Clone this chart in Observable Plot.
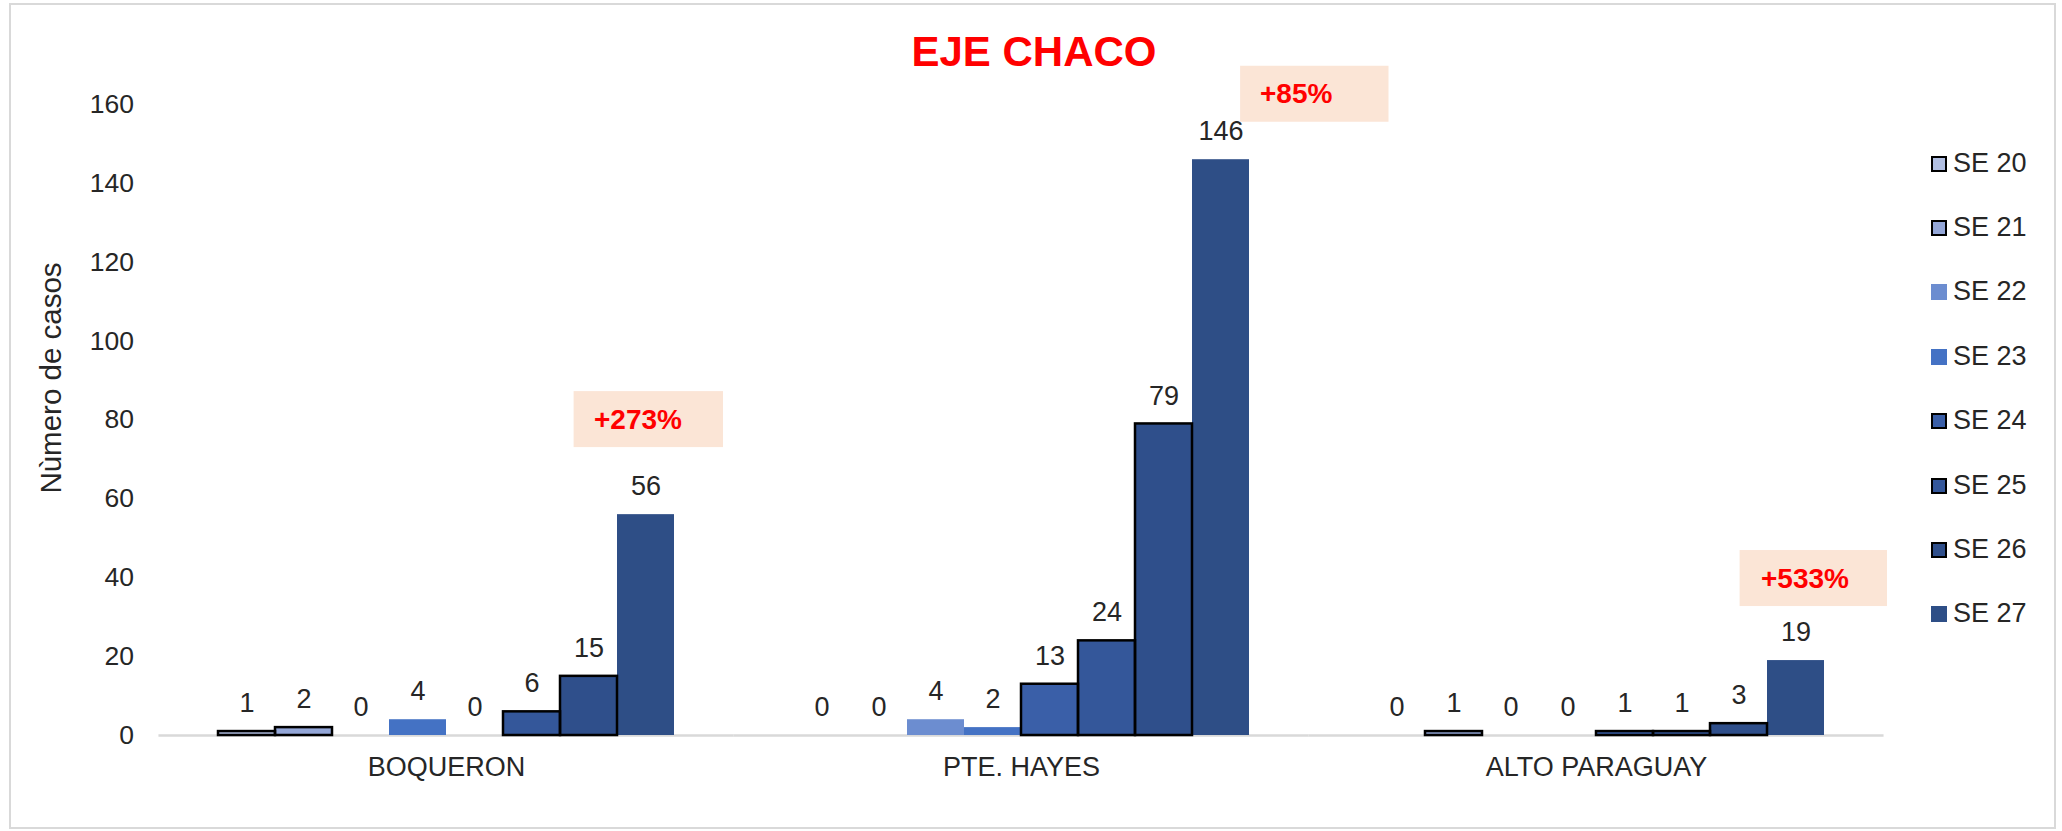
<!DOCTYPE html>
<html>
<head>
<meta charset="utf-8">
<script src="https://cdn.jsdelivr.net/npm/d3@7"></script>
<script src="https://cdn.jsdelivr.net/npm/@observablehq/plot@0.6"></script>
<style>
  html, body { margin: 0; padding: 0; background: #ffffff; }
  #wrap { position: relative; width: 2062px; height: 831px; overflow: hidden;
          font-family: "Liberation Sans", Arial, sans-serif; }
  #frame { position: absolute; left: 9px; top: 3px; width: 2043px; height: 822px;
           border: 2.5px solid #d9d9d9; box-sizing: content-box; }
  #chart { position: absolute; left: 0; top: 0; }
  #title { position: absolute; left: 534px; width: 1000px; top: 31px; text-align: center;
           font-size: 42px; line-height: 42px; font-weight: bold; color: #ff0000; }
  #ytitle { position: absolute; left: 51px; top: 378px; white-space: nowrap;
            transform: translate(-50%, -50%) rotate(-90deg);
            font-size: 29.5px; line-height: 30px; color: #262626; }
  .leg { position: absolute; left: 1931px; height: 27px; white-space: nowrap; }
  .leg .sw { position: absolute; left: 0; top: 6px; width: 16px; height: 16px; box-sizing: border-box; }
  .leg .lb { position: absolute; left: 22px; top: 0; font-size: 27px; line-height: 27px; color: #262626; }
</style>
</head>
<body>
<div id="wrap">
  <div id="frame"></div>
  <div id="chart"></div>
  <div id="title">EJE CHACO</div>
  <div id="ytitle">Nùmero de casos</div>
  <div id="legend"></div>
</div>
<script>
// ---- data ----
const departments = ["BOQUERON", "PTE. HAYES", "ALTO PARAGUAY"];
const weeks = ["SE 20", "SE 21", "SE 22", "SE 23", "SE 24", "SE 25", "SE 26", "SE 27"];
const boqueron     = [1, 2, 0, 4, 0, 6, 15, 56];
const pteHayes     = [0, 0, 4, 2, 13, 24, 79, 146];
const altoParaguay = [0, 1, 0, 0, 1, 1, 3, 19];
const yTicks = [0, 20, 40, 60, 80, 100, 120, 140, 160];
const changeLabels = ["+273%", "+85%", "+533%"];

// ---- styling ----
const weekColors = ["#b1bfe2", "#94a7d8", "#6c8dd0", "#4472c4", "#3a5fa8", "#34579a", "#2f4f8b", "#2e4e86"];
const outlinedWeeks = new Set(["SE 20", "SE 21", "SE 24", "SE 25", "SE 26"]);
// annotation box layout: centre level (case units) and pixel insets relative to the SE 27 bar
const changeLayout = [
  {level: 80.1,  insetLeft: -43.4, insetRight: -49,    dx: -52},
  {level: 162.6, insetLeft: 48.1,  insetRight: -139.5, dx: 39},
  {level: 39.8,  insetLeft: -27.4, insetRight: -63,    dx: -35}
];

const series = [boqueron, pteHayes, altoParaguay];
const rows = [];
departments.forEach((dep, i) => {
  weeks.forEach((wk, j) => rows.push({dept: dep, week: wk, value: series[i][j]}));
});

const annoMarks = [];
changeLabels.forEach((lab, i) => {
  const L = changeLayout[i];
  const d = [{dept: departments[i], week: weeks[weeks.length - 1], label: lab}];
  annoMarks.push(Plot.barY(d, {
    fx: "dept", x: "week",
    y1: () => L.level - 7.1, y2: () => L.level + 7.1,
    fill: "#fbe5d6", insetLeft: L.insetLeft, insetRight: L.insetRight
  }));
  annoMarks.push(Plot.text(d, {
    fx: "dept", x: "week", y: () => L.level, text: "label",
    textAnchor: "start", dx: L.dx, fill: "#ff0000", fontSize: 28, fontWeight: "bold"
  }));
});

const barW = 57.55;
const chart = Plot.plot({
  width: 2062,
  height: 831,
  marginLeft: 158,
  marginRight: 177.5,
  marginTop: 104,
  marginBottom: 96,
  style: {fontFamily: "'Liberation Sans', Arial, sans-serif", color: "#262626", background: "transparent", overflow: "visible"},
  fx: {domain: departments, paddingInner: 0.2, paddingOuter: 0.1, label: null},
  x: {domain: weeks, padding: 0, axis: null},
  y: {domain: [0, 160], label: null},
  color: {domain: weeks, range: weekColors},
  marks: [
    Plot.ruleY([0], {stroke: "#d9d9d9", strokeWidth: 2.5, insetLeft: -barW, insetRight: -barW}),
    Plot.barY(rows, {fx: "dept", x: "week", y: "value", fill: "week"}),
    Plot.barY(rows.filter(d => outlinedWeeks.has(d.week) && d.value > 0),
      {fx: "dept", x: "week", y: "value", fill: "none", stroke: "#000000", strokeWidth: 2.5}),
    Plot.text(rows, {fx: "dept", x: "week", y: "value", text: d => String(d.value),
      dy: -28, fontSize: 27, fill: "#262626"}),
    ...annoMarks,
    Plot.axisY({ticks: yTicks, tickSize: 0, tickPadding: 82.5, fontSize: 26.5, label: null, fill: "#262626"}),
    Plot.axisFx({anchor: "bottom", tickSize: 0, tickPadding: 21, fontSize: 27, label: null, fill: "#262626"})
  ]
});
document.getElementById("chart").appendChild(chart);

// legend built from the same arrays
const legend = document.getElementById("legend");
weeks.forEach((wk, i) => {
  const item = document.createElement("div");
  item.className = "leg";
  item.style.top = (163 + 64.4 * i - 13.5) + "px";
  const sw = document.createElement("div");
  sw.className = "sw";
  sw.style.background = weekColors[i];
  if (outlinedWeeks.has(wk)) sw.style.border = "2.5px solid #000";
  const lb = document.createElement("div");
  lb.className = "lb";
  lb.textContent = wk;
  item.appendChild(sw);
  item.appendChild(lb);
  legend.appendChild(item);
});
</script>
</body>
</html>
